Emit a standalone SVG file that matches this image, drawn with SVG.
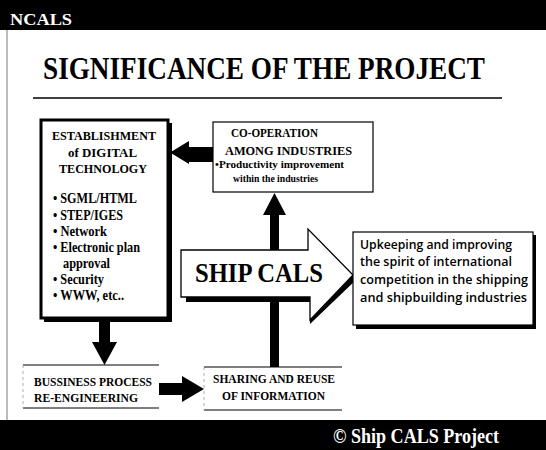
<svg xmlns="http://www.w3.org/2000/svg" width="546" height="450" viewBox="0 0 546 450">
<style>
.serif{font-family:"Liberation Serif","Times New Roman",serif;font-weight:bold;fill:#000}
.sans{font-family:"Open Sans","Liberation Sans",sans-serif;font-weight:600;fill:#000}
.white{fill:#fff}
.thin{fill:#fff;stroke:#000;stroke-width:1.2}
.thick{fill:#fff;stroke:#000;stroke-width:3}
.shadow{fill:#000}
.arrow{fill:#000;stroke:none}
</style>
<rect width="546" height="450" fill="#fff"/>
<g id="header">
<rect x="0" y="0" width="546" height="30" fill="#000"/>
<text class="serif white" x="10" y="25" font-size="17" textLength="62" lengthAdjust="spacingAndGlyphs">NCALS</text>
</g>
<line x1="7" y1="30" x2="7" y2="420" stroke="#777" stroke-width="1"/>
<g id="title">
<text class="serif" x="43" y="79" font-size="31" textLength="442" lengthAdjust="spacingAndGlyphs">SIGNIFICANCE OF THE PROJECT</text>
<line x1="33" y1="98" x2="502" y2="98" stroke="#000" stroke-width="1.5"/>
</g>
<g id="connectors">
<path class="arrow" d="M213,147 L189,147 L189,141 L170,152.5 L189,164 L189,162 L213,162 Z"/>
<path class="arrow" d="M270,367 L270,215 L263,215 L274.5,193 L286,215 L279,215 L279,367 Z"/>
<path class="arrow" d="M99,318 L99,342 L92,342 L104.5,365 L117,342 L110,342 L110,318 Z"/>
<path class="arrow" d="M159,383 L182,383 L182,376 L204,389 L182,402 L182,395 L159,395 Z"/>
</g>
<g id="digital">
<rect class="shadow" x="44" y="123" width="128" height="199"/>
<rect class="thick" x="41" y="120" width="127" height="198"/>
<text class="serif" font-size="13.5"><tspan x="52" y="140" textLength="104" lengthAdjust="spacingAndGlyphs">ESTABLISHMENT</tspan><tspan x="68" y="157" textLength="69" lengthAdjust="spacingAndGlyphs">of DIGITAL</tspan><tspan x="59" y="173" textLength="88" lengthAdjust="spacingAndGlyphs">TECHNOLOGY</tspan></text>
<text class="serif" font-size="14"><tspan x="53" y="203" textLength="84" lengthAdjust="spacingAndGlyphs">• SGML/HTML</tspan><tspan x="53" y="220" textLength="70" lengthAdjust="spacingAndGlyphs">• STEP/IGES</tspan><tspan x="53" y="236" textLength="54" lengthAdjust="spacingAndGlyphs">• Network</tspan><tspan x="53" y="252" textLength="87" lengthAdjust="spacingAndGlyphs">• Electronic plan</tspan><tspan x="63" y="268" textLength="47" lengthAdjust="spacingAndGlyphs">approval</tspan><tspan x="53" y="284" textLength="51" lengthAdjust="spacingAndGlyphs">• Security</tspan><tspan x="53" y="300" textLength="71" lengthAdjust="spacingAndGlyphs">• WWW, etc..</tspan></text>
</g>
<g id="cooperation">
<rect class="thin" x="213" y="122" width="160" height="70"/>
<text class="serif" font-size="13.5"><tspan x="231" y="137" textLength="87" lengthAdjust="spacingAndGlyphs">CO-OPERATION</tspan><tspan x="225" y="155" textLength="127" lengthAdjust="spacingAndGlyphs">AMONG INDUSTRIES</tspan></text>
<text class="serif" font-size="10"><tspan x="215" y="168" textLength="129" lengthAdjust="spacingAndGlyphs">•Productivity improvement</tspan><tspan x="233" y="182" textLength="85" lengthAdjust="spacingAndGlyphs">within the industries</tspan></text>
</g>
<g id="shipcals">
<path class="shadow" d="M186,297 L310,297 L310,324 L358,278 L354,274 L312,317 L312,302 L186,302 Z"/>
<path fill="#fff" stroke="#000" stroke-width="1.3" d="M181,250 L308,250 L308,229 L353,275 L310,320 L310,297 L181,297 Z"/>
<text class="serif" x="195" y="282" font-size="27" textLength="128" lengthAdjust="spacingAndGlyphs">SHIP CALS</text>
</g>
<g id="spirit">
<rect class="shadow" x="356" y="235" width="180" height="94"/>
<rect class="thin" x="353" y="232" width="180" height="93"/>
<text class="sans" font-size="13"><tspan x="360" y="249" textLength="152" lengthAdjust="spacingAndGlyphs">Upkeeping and improving</tspan><tspan x="360" y="266" textLength="152" lengthAdjust="spacingAndGlyphs">the spirit of international</tspan><tspan x="360" y="284" textLength="168" lengthAdjust="spacingAndGlyphs">competition in the shipping</tspan><tspan x="360" y="302" textLength="167" lengthAdjust="spacingAndGlyphs">and shipbuilding industries</tspan></text>
</g>
<g id="bpr">
<line x1="23" y1="365" x2="159" y2="365" stroke="#000" stroke-width="1"/>
<line x1="23" y1="408" x2="159" y2="408" stroke="#000" stroke-width="1"/>
<line x1="23" y1="365" x2="23" y2="408" stroke="#999" stroke-width="0.8" stroke-dasharray="3,3"/>
<text class="serif" font-size="13"><tspan x="34" y="386" textLength="118" lengthAdjust="spacingAndGlyphs">BUSSINESS PROCESS</tspan><tspan x="34" y="402" textLength="104" lengthAdjust="spacingAndGlyphs">RE-ENGINEERING</tspan></text>
</g>
<g id="sharing">
<line x1="204" y1="367" x2="342" y2="367" stroke="#000" stroke-width="1"/>
<line x1="204" y1="410" x2="342" y2="410" stroke="#000" stroke-width="1"/>
<line x1="204" y1="367" x2="204" y2="410" stroke="#999" stroke-width="0.8" stroke-dasharray="3,3"/>
<text class="serif" font-size="13"><tspan x="213" y="383" textLength="122" lengthAdjust="spacingAndGlyphs">SHARING AND REUSE</tspan><tspan x="222" y="400" textLength="103" lengthAdjust="spacingAndGlyphs">OF INFORMATION</tspan></text>
</g>
<g id="footer">
<rect x="0" y="420" width="546" height="30" fill="#000"/>
<text class="serif white" x="333" y="443" font-size="20" textLength="166" lengthAdjust="spacingAndGlyphs">© Ship CALS  Project</text>
</g>
</svg>
